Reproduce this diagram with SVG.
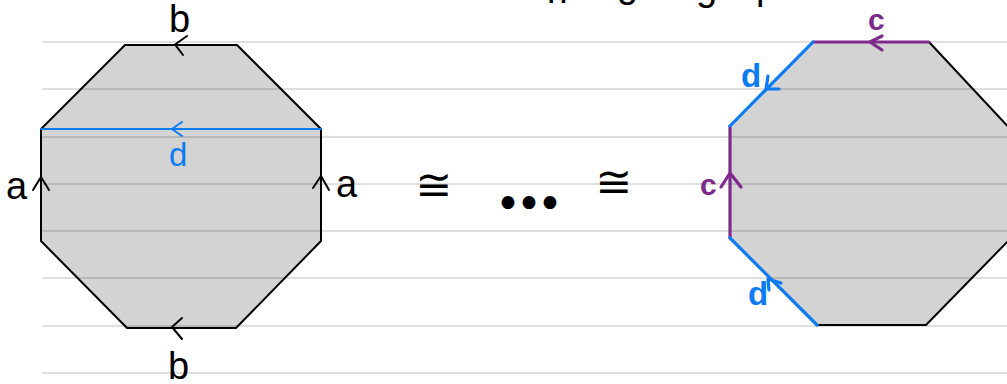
<svg xmlns="http://www.w3.org/2000/svg" width="1007" height="384" viewBox="0 0 1007 384">
  <style>
    .fill { fill: #d3d3d3; stroke: none; }
    .rule { stroke: #000; stroke-opacity: 0.17; stroke-width: 1.5; }
    .edge { fill: none; stroke: #000; stroke-width: 2; stroke-linecap: round; stroke-linejoin: round; }
    .blue { stroke: #0d7cf2; }
    .purple { stroke: #7d2a8c; }
    .thick { stroke-width: 3.2; }
    .lbl { font-family: "Liberation Sans", "DejaVu Sans", sans-serif; font-size: 38px; fill: #000; }
    .lblB { fill: #0d7cf2; font-size: 33px; font-weight: bold; }
    .lblP { fill: #7d2a8c; font-size: 30px; font-weight: bold; }
    .sym { font-family: "DejaVu Sans", sans-serif; font-size: 44px; fill: #000; }
  </style>

  <!-- partially visible caption line above the page -->
  <g id="caption" class="lbl">
    <text x="547" y="-5" letter-spacing="-9">pp</text>
    <text x="617" y="-3">g</text>
    <text x="696" y="0">g</text>
    <text x="756" y="-1">p</text>
  </g>

  <!-- shaded faces -->
  <polygon class="fill" points="125,45 237,45 321,129 321,241 236,328 127,328 41,241 41,129"/>
  <polygon class="fill" points="813,42 929,42 1013,132 1013,236 926,325 817,325 730,238 730,126"/>

  <!-- notebook ruling -->
  <g id="ruling" class="rule">
    <line x1="42" y1="42" x2="1007" y2="42"/>
    <line x1="42" y1="89" x2="1007" y2="89"/>
    <line x1="42" y1="137" x2="1007" y2="137"/>
    <line x1="42" y1="184" x2="1007" y2="184"/>
    <line x1="42" y1="231" x2="1007" y2="231"/>
    <line x1="42" y1="278" x2="1007" y2="278"/>
    <line x1="42" y1="326" x2="1007" y2="326"/>
    <line x1="42" y1="373" x2="1007" y2="373"/>
  </g>

  <!-- left octagon -->
  <g id="octagon-left">
    <polygon class="edge" points="125,45 237,45 321,129 321,241 236,328 127,328 41,241 41,129"/>
    <line class="edge blue" x1="41" y1="129" x2="321" y2="129"/>
    <!-- arrowheads -->
    <polyline class="edge" points="187,36 175,44.5 183,55"/>
    <polyline class="edge" points="182,318 172,327 182,339"/>
    <polyline class="edge" points="33,190 41,177 49,190"/>
    <polyline class="edge" points="313,188 321,176 329,190"/>
    <polyline class="edge blue" points="182,122 172,129 182,136"/>
    <!-- labels -->
    <text class="lbl" x="169" y="32">b</text>
    <text class="lbl" x="168" y="379">b</text>
    <text class="lbl" x="6" y="199">a</text>
    <text class="lbl" x="336" y="197">a</text>
    <text class="lbl lblB" x="169" y="166" style="font-weight:normal">d</text>
  </g>

  <!-- relations between the two presentations -->
  <g id="relation">
    <text class="sym" x="434" y="200" text-anchor="middle">≅</text>
    <text class="sym" x="614" y="197" text-anchor="middle">≅</text>
    <text class="sym" x="495" y="219" font-size="32" letter-spacing="-5">•••</text>
  </g>

  <!-- right octagon -->
  <g id="octagon-right">
    <polyline class="edge" points="929,42 1013,132 1013,236 926,325 817,325"/>
    <line class="edge purple thick" x1="813" y1="42" x2="929" y2="42"/>
    <line class="edge purple thick" x1="730" y1="126" x2="730" y2="238"/>
    <line class="edge blue thick" x1="813" y1="42" x2="730" y2="126"/>
    <line class="edge blue thick" x1="730" y1="238" x2="817" y2="325"/>
    <!-- arrowheads -->
    <polyline class="edge purple thick" points="882,36 870,42 882,50"/>
    <polyline class="edge purple thick" points="721,187 730,173 741,187"/>
    <polyline class="edge blue thick" points="768,76 766,89 779,89"/>
    <polyline class="edge blue thick" points="769,290 768,279 781,283"/>
    <!-- labels -->
    <text class="lbl lblP" x="868" y="30">c</text>
    <text class="lbl lblP" x="700" y="195">c</text>
    <text class="lbl lblB" x="741" y="87">d</text>
    <text class="lbl lblB" x="748" y="305">d</text>
  </g>
</svg>
